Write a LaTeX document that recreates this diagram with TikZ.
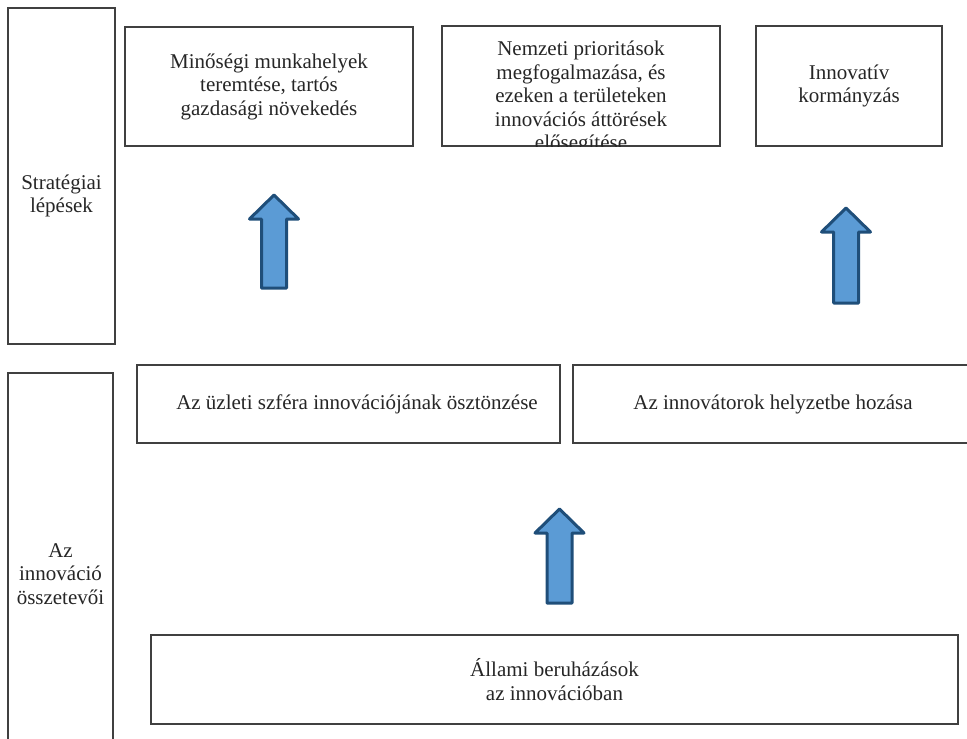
\documentclass[tikz,border=0pt]{standalone}
\usepackage{fontspec}
\setmainfont{Liberation Serif}
\usetikzlibrary{positioning}

\definecolor{nyilkitolt}{HTML}{5B9BD5}
\definecolor{nyilszel}{HTML}{1F4E79}

\begin{document}
\begin{tikzpicture}[x=1pt,y=-1pt]
        \tikzstyle{doboz} = [draw=black!75, line width=1.3pt, rectangle, inner sep=0pt]
        \tikzstyle{szoveg} = [align=center, inner sep=0pt, text=black!85, font=\fontsize{21}{23.5}\selectfont]
        \tikzstyle{nyil} = [draw=nyilszel, fill=nyilkitolt, line width=3pt, line join=round]

        \clip (0,0) rectangle (967,739);
        \useasboundingbox (0,0) rectangle (967,739);

        % Bal oldali oszlop
        \node[doboz, minimum width=107pt, minimum height=336pt](lepesek) at (61.5,176) {};
        \node[szoveg](lepesekszoveg) at (61.5,196) {Stratégiai\\lépések};
        \node[doboz, minimum width=105pt, minimum height=402pt](osszetevok) at (60.5,574) {};
        \node[szoveg](osszetevokszoveg) at (60.5,574) {Az\\innováció\\összetevői};

        % Stratégiai lépések
        \node[doboz, minimum width=288pt, minimum height=119pt](munkahely) at (269,86.5) {};
        \node[szoveg](munkahelyszoveg) at (269,86.5) {Minőségi munkahelyek\\teremtése, tartós\\gazdasági növekedés};
        \node[doboz, minimum width=278pt, minimum height=120pt](prioritasok) at (581,86) {};
        \begin{scope}
            \clip (prioritasok.south west) rectangle (prioritasok.north east);
            \node[szoveg, anchor=north](prioritasokszoveg) at (581,41) {Nemzeti prioritások\\megfogalmazása, és\\ezeken a területeken\\innovációs áttörések\\elősegítése};
        \end{scope}
        \node[doboz, minimum width=186pt, minimum height=120pt](kormanyzas) at (849,86) {};
        \node[szoveg](kormanyzasszoveg) at (849,86) {Innovatív\\kormányzás};

        % Az innováció összetevői
        \node[doboz, minimum width=423pt, minimum height=78pt](uzleti) at (348.5,404) {};
        \node[szoveg](uzletiszoveg) at (357,404) {Az üzleti szféra innovációjának ösztönzése};
        \node[doboz, minimum width=430pt, minimum height=78pt](innovatorok) at (788,404) {};
        \node[szoveg](innovatorokszoveg) at (773,404) {Az innovátorok helyzetbe hozása};
        \node[doboz, minimum width=807pt, minimum height=89pt](allami) at (554.5,679.5) {};
        \node[szoveg](allamiszoveg) at (554.5,679.5) {Állami beruházások\\az innovációban};

        % Nyilak
        \foreach \cx/\ty/\by in {274/195/288, 846/208/303, 559.5/509/603}
            \draw[nyil] (\cx,\ty) -- ++(24.5,24) -- ++(-12,0) -- (\cx+12.5,\by)
                -- (\cx-12.5,\by) -- (\cx-12.5,\ty+24) -- ++(-12,0) -- cycle;
    \end{tikzpicture}
\end{document}
